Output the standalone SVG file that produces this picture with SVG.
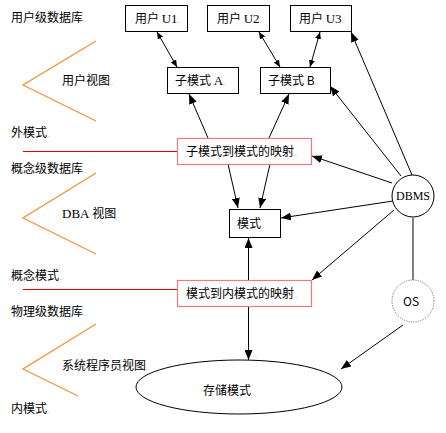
<svg xmlns="http://www.w3.org/2000/svg" width="446" height="433" viewBox="0 0 446 433">
<style>
text{font-family:"Noto Sans CJK SC","Noto Sans",sans-serif;font-size:12px;fill:#000}
.ser{font-family:"Liberation Serif","Noto Sans CJK SC",serif;font-size:13px}
.dot{fill:#aaa;font-size:6px}
.box{fill:#fff;stroke:#000;stroke-width:1}
.map{fill:#fff;stroke:#f07878;stroke-width:1.2}
.chev{fill:none;stroke:#f7923a;stroke-width:1.3}
.red{stroke:#e00000;stroke-width:1}
.con{stroke:#000;stroke-width:1;fill:none}
</style>
<defs>
<marker id="ah" markerUnits="userSpaceOnUse" markerWidth="10" markerHeight="8" refX="10" refY="4" orient="auto-start-reverse" viewBox="0 0 10 8">
<path d="M0,0 L10,4 L0,8 z" fill="#000"/>
</marker>
<marker id="sh" markerUnits="userSpaceOnUse" markerWidth="7" markerHeight="6" refX="7" refY="3" orient="auto-start-reverse" viewBox="0 0 7 6">
<path d="M0,0 L7,3 L0,6 z" fill="#000"/>
</marker>
</defs>
<rect width="446" height="433" fill="#fff"/>

<g id="labels">
<text x="11" y="22">用户级数据库<tspan class="dot">..</tspan></text>
<text x="62" y="85">用户视图<tspan class="dot">..</tspan></text>
<text x="11" y="137">外模式<tspan class="dot">..</tspan></text>
<text x="11" y="173">概念级数据库<tspan class="dot">..</tspan></text>
<text x="62" y="218"><tspan class="ser">DBA</tspan> 视图<tspan class="dot">..</tspan></text>
<text x="11" y="280">概念模式<tspan class="dot">..</tspan></text>
<text x="11" y="316">物理级数据库<tspan class="dot">..</tspan></text>
<text x="62" y="370">系统程序员视图<tspan class="dot">..</tspan></text>
<text x="11" y="413">内模式<tspan class="dot">..</tspan></text>
</g>

<g id="chevrons">
<polyline class="chev" points="96,41 23,85 96,121"/>
<polyline class="chev" points="96,173 23,218 96,254"/>
<polyline class="chev" points="96,324 23,369 78,396"/>
<line class="red" x1="23" y1="151.5" x2="177" y2="151.5"/>
<line class="red" x1="23" y1="289.5" x2="177" y2="289.5"/>
</g>

<g id="connectors">
<line class="con" x1="157" y1="32" x2="177" y2="67" marker-start="url(#sh)" marker-end="url(#sh)"/>
<line class="con" x1="259" y1="32" x2="280" y2="67" marker-start="url(#sh)" marker-end="url(#sh)"/>
<line class="con" x1="320" y1="32" x2="310" y2="67" marker-start="url(#sh)" marker-end="url(#sh)"/>
<line class="con" x1="208" y1="138" x2="189" y2="94" marker-end="url(#ah)"/>
<line class="con" x1="269" y1="138" x2="289" y2="94" marker-end="url(#ah)"/>
<line class="con" x1="228" y1="164" x2="238" y2="208" marker-end="url(#ah)"/>
<line class="con" x1="270" y1="164" x2="260" y2="208" marker-end="url(#ah)"/>
<line class="con" x1="248.5" y1="280" x2="248.5" y2="238" marker-end="url(#ah)"/>
<line class="con" x1="248.5" y1="306" x2="248.5" y2="360" marker-end="url(#ah)"/>
<line class="con" x1="412" y1="175" x2="351" y2="32" marker-end="url(#ah)"/>
<line class="con" x1="401" y1="176" x2="330" y2="86" marker-end="url(#ah)"/>
<line class="con" x1="392" y1="183" x2="312" y2="156" marker-end="url(#ah)"/>
<line class="con" x1="393" y1="201" x2="281" y2="218" marker-end="url(#ah)"/>
<line class="con" x1="394" y1="210" x2="312" y2="280" marker-end="url(#ah)"/>
<line class="con" x1="403" y1="325" x2="341" y2="369" marker-end="url(#ah)"/>
<line x1="413" y1="218" x2="413" y2="280" stroke="#808080" stroke-width="2"/>
</g>

<g id="u1"><rect class="box" x="125.5" y="5.5" width="62" height="26"/><text x="135" y="23">用户 <tspan class="ser">U1</tspan><tspan class="dot">..</tspan></text></g>
<g id="u2"><rect class="box" x="207.5" y="5.5" width="62" height="26"/><text x="217" y="23">用户 <tspan class="ser">U2</tspan><tspan class="dot">..</tspan></text></g>
<g id="u3"><rect class="box" x="290.5" y="5.5" width="61" height="26"/><text x="299" y="23">用户 <tspan class="ser">U3</tspan><tspan class="dot">..</tspan></text></g>
<g id="subA"><rect class="box" x="167.5" y="67.5" width="71" height="26"/><text x="175" y="85">子模式 <tspan class="ser">A</tspan><tspan class="dot">..</tspan></text></g>
<g id="subB"><rect class="box" x="260.5" y="67.5" width="70" height="26"/><text x="268" y="85">子模式 B<tspan class="dot">..</tspan></text></g>
<g id="map1"><rect class="map" x="177.5" y="138.5" width="134" height="26"/><text x="186" y="156">子模式到模式的映射<tspan class="dot">..</tspan></text></g>
<g id="schema"><rect class="box" x="229.5" y="209.5" width="51" height="28"/><text x="237" y="228">模式<tspan class="dot">..</tspan></text></g>
<g id="map2"><rect class="map" x="177.5" y="280.5" width="134" height="26"/><text x="186" y="298">模式到内模式的映射<tspan class="dot">..</tspan></text></g>
<g id="storage"><ellipse cx="239" cy="387" rx="103" ry="27" fill="#fff" stroke="#000" stroke-width="1"/><text x="203" y="395">存储模式<tspan class="dot">..</tspan></text></g>
<g id="dbms"><circle cx="413" cy="196" r="21" fill="#fff" stroke="#000" stroke-width="1"/><text x="396" y="200" class="ser" style="font-size:12px">DBMS<tspan class="dot">.</tspan></text></g>
<g id="os"><circle cx="413" cy="301" r="21" fill="#fff" stroke="#777" stroke-width="1" stroke-dasharray="1.2,1.2"/><text x="403" y="306" font-size="11px">OS<tspan class="dot">.</tspan></text></g>
</svg>
